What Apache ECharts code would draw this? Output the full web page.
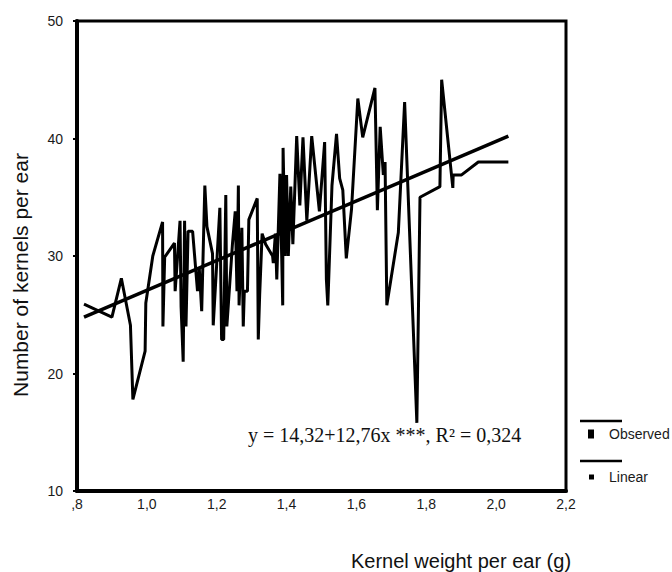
<!DOCTYPE html>
<html>
<head>
<meta charset="utf-8">
<script src="https://cdn.jsdelivr.net/npm/echarts@6/dist/echarts.min.js"></script>
<style>html,body{margin:0;padding:0;background:#fff}#c{width:672px;height:572px}</style>
</head>
<body>
<div id="c"></div>
<script>
// ---- data ----
const xTickLabels = [',8', '1,0', '1,2', '1,4', '1,6', '1,8', '2,0', '2,2'];
const yTickLabels = ['10', '20', '30', '40', '50'];
const seriesNames = ['Observed', 'Linear'];
const observedX = [0.820,0.900,0.927,0.953,0.960,0.995,0.997,1.017,1.045,1.046,1.051,1.079,1.081,1.095,1.098,1.104,1.108,1.112,1.118,1.131,1.145,1.150,1.157,1.166,1.172,1.188,1.190,1.209,1.214,1.220,1.226,1.229,1.245,1.253,1.258,1.262,1.264,1.272,1.276,1.279,1.288,1.292,1.316,1.319,1.323,1.330,1.340,1.360,1.362,1.368,1.372,1.381,1.389,1.390,1.396,1.400,1.405,1.412,1.418,1.429,1.438,1.447,1.458,1.472,1.494,1.509,1.514,1.518,1.530,1.543,1.552,1.561,1.571,1.586,1.604,1.618,1.653,1.660,1.668,1.677,1.682,1.687,1.720,1.738,1.773,1.782,1.839,1.844,1.876,1.877,1.901,1.949,2.035];
const observedY = [25.9,24.8,28.1,24.1,17.8,21.9,26.0,30.0,32.9,24.0,29.9,31.1,27.0,33.0,25.7,21.0,33.0,24.0,32.1,32.1,27.0,29.0,25.3,36.0,32.5,30.2,24.1,34.1,22.9,22.9,35.2,24.0,31.0,33.8,27.0,36.0,25.8,32.4,24.0,27.0,27.0,33.1,34.9,22.9,26.7,31.9,31.0,30.0,29.4,31.9,28.0,37.0,25.8,39.2,30.0,36.9,30.0,35.9,31.0,40.2,34.3,40.1,33.0,40.2,33.8,39.7,28.0,25.8,36.0,40.4,36.6,35.6,29.8,34.0,43.4,40.1,44.3,33.9,41.0,36.9,38.0,25.8,32.0,43.1,15.8,35.0,35.9,45.0,35.8,36.9,36.9,38.0,38.0];
const linearX = [0.820, 2.035];
const linearY = [24.8, 40.2];
const equationText = 'y = 14,32+12,76x ***, R² = 0,324';
const xTitle = 'Kernel weight per ear (g)';
const yTitle = 'Number of kernels per ear';

const SANS = 'Liberation Sans, Arial, sans-serif';
const SERIF = 'Liberation Serif, Times New Roman, serif';

const chart = echarts.init(document.getElementById('c'), null, {renderer: 'svg', width: 672, height: 572});
const option = {
  animation: false,
  backgroundColor: '#ffffff',
  grid: {left: 77, right: 106, top: 21, bottom: 81, show: true, borderColor: '#000', borderWidth: 3, backgroundColor: 'transparent'},
  xAxis: {
    type: 'value', min: 0.8, max: 2.2, interval: 0.2,
    axisLine: {show: true, onZero: false, lineStyle: {color: '#000', width: 4}},
    axisTick: {show: false},
    splitLine: {show: false},
    axisLabel: {margin: 6, fontSize: 14, fontFamily: SANS, color: '#1a1a1a',
      formatter: v => xTickLabels[Math.round((v - 0.8) / 0.2)]}
  },
  yAxis: {
    type: 'value', min: 10, max: 50, interval: 10,
    axisLine: {show: true, onZero: false, lineStyle: {color: '#000', width: 4}},
    axisTick: {show: true, length: 4, lineStyle: {color: '#000', width: 2}},
    splitLine: {show: false},
    axisLabel: {margin: 14, fontSize: 14, fontFamily: SANS, color: '#1a1a1a',
      formatter: v => yTickLabels[Math.round((v - 10) / 10)]}
  },
  legend: [
    {data: [seriesNames[0]], left: 588, top: 427, padding: 0, icon: 'rect', itemWidth: 6, itemHeight: 9,
     selectedMode: false, textStyle: {fontSize: 14, fontFamily: SANS, color: '#1a1a1a', padding: [0, 0, 0, 10]}},
    {data: [seriesNames[1]], left: 589, top: 470, padding: 0, icon: 'rect', itemWidth: 5, itemHeight: 5,
     selectedMode: false, textStyle: {fontSize: 14, fontFamily: SANS, color: '#1a1a1a', padding: [0, 0, 0, 10]}}
  ],
  series: [
    {name: seriesNames[0], type: 'line', symbol: 'none', z: 3,
     data: observedX.map((x, i) => [x, observedY[i]]),
     itemStyle: {color: '#000'}, lineStyle: {color: '#000', width: 3}},
    {name: seriesNames[1], type: 'line', symbol: 'none', z: 4,
     data: linearX.map((x, i) => [x, linearY[i]]),
     itemStyle: {color: '#000'}, lineStyle: {color: '#000', width: 3.5}}
  ],
  graphic: [
    {type: 'text', x: 20, y: 275, rotation: Math.PI / 2,
     style: {text: yTitle, fontSize: 21, fontFamily: SANS, fill: '#111', align: 'center', verticalAlign: 'middle'}},
    {type: 'text', x: 461, y: 561,
     style: {text: xTitle, fontSize: 20, fontFamily: SANS, fill: '#111', align: 'center', verticalAlign: 'middle'}},
    {type: 'text', x: 248, y: 435, z: 10,
     style: {text: equationText, fontSize: 20, fontFamily: SERIF, fill: '#111', align: 'left', verticalAlign: 'middle'}},
    {type: 'line', shape: {x1: 580, y1: 421, x2: 622, y2: 421}, style: {stroke: '#000', lineWidth: 2.5}},
    {type: 'line', shape: {x1: 580, y1: 461, x2: 622, y2: 461}, style: {stroke: '#000', lineWidth: 2.5}}
  ]
};
chart.setOption(option);
</script>
</body>
</html>
